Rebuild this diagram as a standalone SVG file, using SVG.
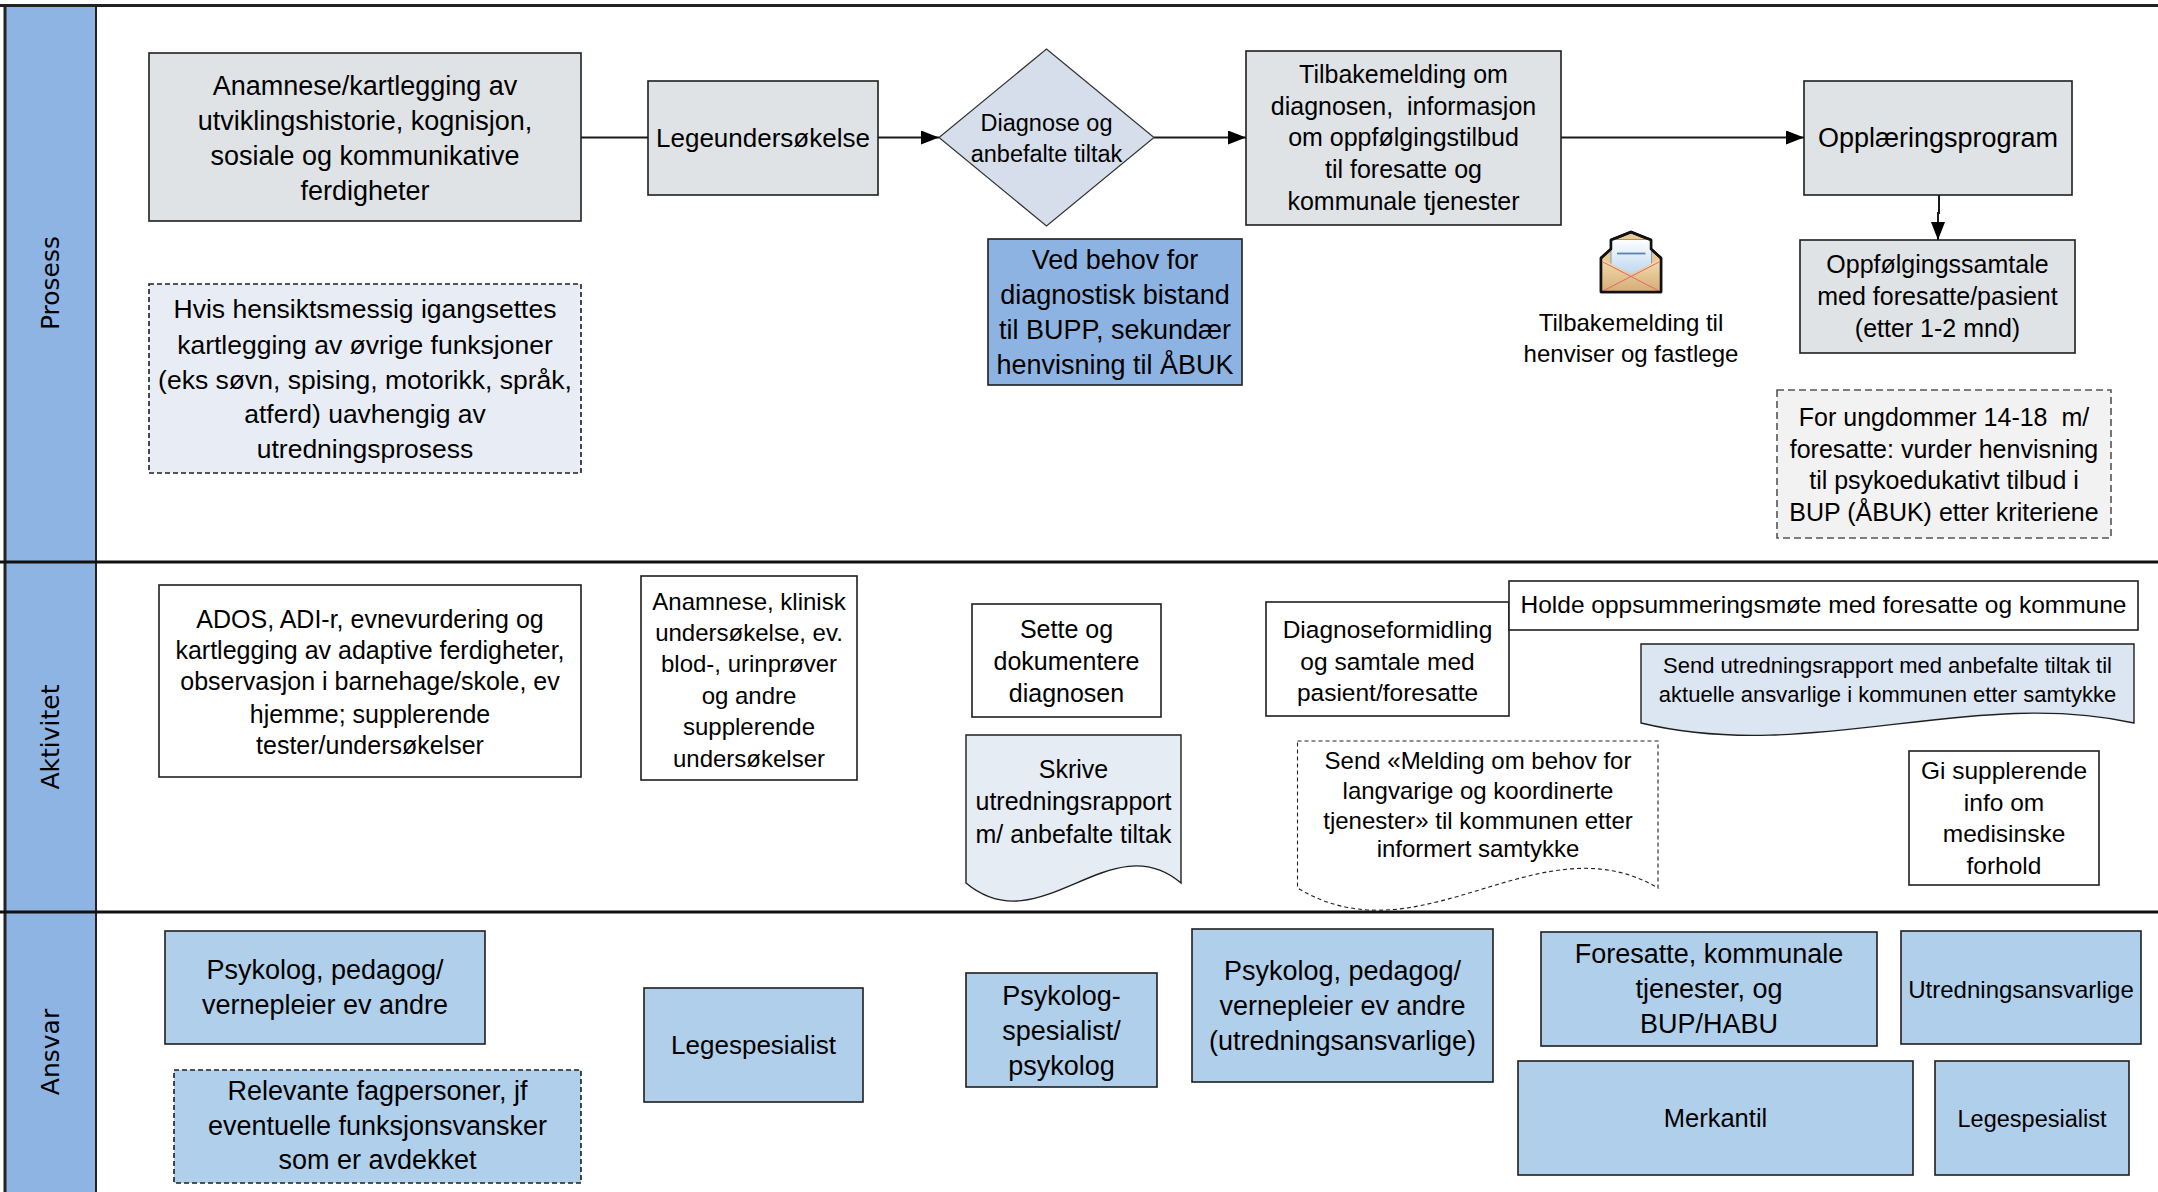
<svg xmlns="http://www.w3.org/2000/svg" width="2158" height="1192" viewBox="0 0 2158 1192">
<defs>
<style>
.bx{stroke:#1f1f1f;stroke-width:1.6}
.gray{fill:#DFE3E6}
.white{fill:#FFFFFF}
.ans{fill:#AFCFEB}
.dash{stroke-dasharray:5 3}
.t{font-family:"Liberation Sans",Arial,sans-serif;text-anchor:middle;fill:#000}
.pre{white-space:pre}
.lane{font-family:"DejaVu Sans",Verdana,sans-serif;font-size:25px;text-anchor:middle;fill:#000}
.con{stroke:#1a1a1a;stroke-width:2;fill:none}
</style>
<marker id="arr" markerUnits="userSpaceOnUse" markerWidth="18" markerHeight="14" refX="18" refY="7" orient="auto">
<path d="M0,0 L18,7 L0,14 Z" fill="#000"/>
</marker>
<linearGradient id="paper" x1="0" y1="0" x2="0" y2="1">
<stop offset="0" stop-color="#FFFFFF"/>
<stop offset="1" stop-color="#B9D5F0"/>
</linearGradient>
<linearGradient id="env" x1="0" y1="0" x2="0" y2="1">
<stop offset="0" stop-color="#F3DDB0"/>
<stop offset="1" stop-color="#D6AE76"/>
</linearGradient>
</defs>
<rect x="0" y="0" width="2158" height="1192" fill="#FFFFFF"/>

<g id="lanes">
<rect x="5" y="5" width="91" height="1187" fill="#8EB4E3"/>
<line x1="0" y1="5.5" x2="2158" y2="5.5" stroke="#222" stroke-width="3"/>
<line x1="5" y1="5" x2="5" y2="1192" stroke="#222" stroke-width="3"/>
<line x1="96" y1="5" x2="96" y2="1192" stroke="#222" stroke-width="2"/>
<line x1="0" y1="562" x2="2158" y2="562" stroke="#111" stroke-width="3"/>
<line x1="0" y1="912" x2="2158" y2="912" stroke="#111" stroke-width="3"/>
<text class="lane" transform="translate(50,283) rotate(-90)" x="0" y="9">Prosess</text>
<text class="lane" transform="translate(50,737) rotate(-90)" x="0" y="9">Aktivitet</text>
<text class="lane" transform="translate(50,1052) rotate(-90)" x="0" y="9">Ansvar</text>
</g>

<g id="connectors">
<line class="con" x1="581" y1="137.5" x2="648" y2="137.5"/>
<line class="con" x1="878" y1="137.5" x2="939" y2="137.5" marker-end="url(#arr)"/>
<line class="con" x1="1154" y1="137.5" x2="1246" y2="137.5" marker-end="url(#arr)"/>
<line class="con" x1="1561" y1="137.5" x2="1804" y2="137.5" marker-end="url(#arr)"/>
<path class="con" d="M1939,195 V213 H1938 V240" marker-end="url(#arr)"/>
</g>

<g id="n1">
<rect class="bx gray" x="149" y="53" width="432" height="168"/>
<text class="t" font-size="27"><tspan x="365" y="94.5">Anamnese/kartlegging av</tspan><tspan x="365" y="129.5">utviklingshistorie, kognisjon,</tspan><tspan x="365" y="165">sosiale og kommunikative</tspan><tspan x="365" y="199.5">ferdigheter</tspan></text>
</g>

<g id="n2">
<rect class="bx gray" x="648" y="81" width="230" height="114"/>
<text class="t" font-size="26" x="763" y="146.5">Legeundersøkelse</text>
</g>

<g id="n-diamond">
<polygon points="1046.5,49 1154,137.5 1046.5,226 939,137.5" fill="#D5DEEA" stroke="#333" stroke-width="1.2"/>
<text class="t" font-size="23.5"><tspan x="1046.5" y="130.5">Diagnose og</tspan><tspan x="1046.5" y="161.5">anbefalte tiltak</tspan></text>
</g>

<g id="n3">
<rect class="bx" x="988" y="239" width="254" height="146" fill="#8DB3E2"/>
<text class="t" font-size="27"><tspan x="1115" y="268.5">Ved behov for</tspan><tspan x="1115" y="303.5">diagnostisk bistand</tspan><tspan x="1115" y="338.5">til BUPP, sekundær</tspan><tspan x="1115" y="373.5">henvisning til ÅBUK</tspan></text>
</g>

<g id="n4">
<rect class="bx gray" x="1246" y="51" width="315" height="174"/>
<text class="t pre" font-size="25" xml:space="preserve"><tspan x="1403.5" y="82.5">Tilbakemelding om</tspan><tspan x="1403.5" y="114.5">diagnosen,  informasjon</tspan><tspan x="1403.5" y="146">om oppfølgingstilbud</tspan><tspan x="1403.5" y="177.5">til foresatte og</tspan><tspan x="1403.5" y="209.5">kommunale tjenester</tspan></text>
</g>

<g id="n5">
<rect class="bx gray" x="1804" y="81" width="268" height="114"/>
<text class="t" font-size="27" x="1938" y="147">Opplæringsprogram</text>
</g>

<g id="n6">
<rect class="bx gray" x="1800" y="240" width="275" height="113"/>
<text class="t" font-size="25"><tspan x="1937.5" y="272.5">Oppfølgingssamtale</tspan><tspan x="1937.5" y="304.5">med foresatte/pasient</tspan><tspan x="1937.5" y="336.5">(etter 1-2 mnd)</tspan></text>
</g>

<g id="n-envelope">
<path d="M1601,258 L1611,249 L1611,240 L1631,232 L1651,240 L1651,249 L1661,258 V292 H1601 Z" fill="#E9C891" stroke="#111" stroke-width="2.5" stroke-linejoin="round"/>
<rect x="1611" y="239.5" width="40.5" height="36" fill="url(#paper)" stroke="#7E9CB8" stroke-width="1"/>
<line x1="1617" y1="253.5" x2="1645.5" y2="253.5" stroke="#5A84B0" stroke-width="1.8"/>
<path d="M1602.2,259 L1631,274 L1659.8,259 V291 H1602.2 Z" fill="url(#env)"/>
<line x1="1603" y1="262" x2="1659" y2="291" stroke="#E06A6A" stroke-width="1"/>
<line x1="1659" y1="262" x2="1603" y2="291" stroke="#E06A6A" stroke-width="1"/>
<path d="M1601,258 L1611,249 L1611,240 L1631,232 L1651,240 L1651,249 L1661,258 V292 H1601 Z" fill="none" stroke="#111" stroke-width="2.5" stroke-linejoin="round"/>
<text class="t" font-size="24"><tspan x="1631" y="331">Tilbakemelding til</tspan><tspan x="1631" y="362">henviser og fastlege</tspan></text>
</g>

<g id="n7">
<rect class="bx dash" x="149" y="284" width="432" height="189" fill="#E8EDF5" stroke-width="1.4"/>
<text class="t" font-size="26.5"><tspan x="365" y="318">Hvis hensiktsmessig igangsettes</tspan><tspan x="365" y="353.5">kartlegging av øvrige funksjoner</tspan><tspan x="365" y="388.5">(eks søvn, spising, motorikk, språk,</tspan><tspan x="365" y="423">atferd) uavhengig av</tspan><tspan x="365" y="458">utredningsprosess</tspan></text>
</g>

<g id="n8">
<rect x="1777" y="390" width="334" height="148" fill="#F2F2F2" stroke="#555" stroke-width="1.6" stroke-dasharray="7 4"/>
<text class="t pre" font-size="25" xml:space="preserve"><tspan x="1944" y="425.5">For ungdommer 14-18  m/</tspan><tspan x="1944" y="457.5">foresatte: vurder henvisning</tspan><tspan x="1944" y="489">til psykoedukativt tilbud i</tspan><tspan x="1944" y="521">BUP (ÅBUK) etter kriteriene</tspan></text>
</g>

<g id="a1">
<rect class="bx white" x="159" y="585" width="422" height="192"/>
<text class="t" font-size="25"><tspan x="370" y="627.5">ADOS, ADI-r, evnevurdering og</tspan><tspan x="370" y="659">kartlegging av adaptive ferdigheter,</tspan><tspan x="370" y="690">observasjon i barnehage/skole, ev</tspan><tspan x="370" y="722.5">hjemme; supplerende</tspan><tspan x="370" y="754">tester/undersøkelser</tspan></text>
</g>

<g id="a2">
<rect class="bx white" x="641" y="576" width="216" height="204"/>
<text class="t" font-size="24"><tspan x="749" y="610">Anamnese, klinisk</tspan><tspan x="749" y="641">undersøkelse, ev.</tspan><tspan x="749" y="672">blod-, urinprøver</tspan><tspan x="749" y="703.5">og andre</tspan><tspan x="749" y="735">supplerende</tspan><tspan x="749" y="766.5">undersøkelser</tspan></text>
</g>

<g id="a3">
<rect class="bx white" x="972" y="604" width="189" height="113"/>
<text class="t" font-size="25"><tspan x="1066.5" y="638">Sette og</tspan><tspan x="1066.5" y="669.5">dokumentere</tspan><tspan x="1066.5" y="701.5">diagnosen</tspan></text>
</g>

<g id="a4">
<path d="M966,735 H1181 V883 C1110,823 1040,945 966,883 Z" fill="#E6ECF4" stroke="#1f1f1f" stroke-width="1.4"/>
<text class="t" font-size="25"><tspan x="1073.5" y="777.5">Skrive</tspan><tspan x="1073.5" y="810">utredningsrapport</tspan><tspan x="1073.5" y="842.5">m/ anbefalte tiltak</tspan></text>
</g>

<g id="a5">
<rect class="bx white" x="1266" y="602" width="243" height="114"/>
<text class="t" font-size="24.5"><tspan x="1387.5" y="637.5">Diagnoseformidling</tspan><tspan x="1387.5" y="669.5">og samtale med</tspan><tspan x="1387.5" y="700.5">pasient/foresatte</tspan></text>
</g>

<g id="a6">
<rect class="bx white" x="1509" y="581" width="629" height="49"/>
<text class="t" font-size="24.5" x="1823.5" y="613">Holde oppsummeringsmøte med foresatte og kommune</text>
</g>

<g id="a7">
<path d="M1641,644 H2134 V723 C1971,687 1810,764 1641,723 Z" fill="#DCE6F2" stroke="#1f1f1f" stroke-width="1.4"/>
<text class="t" font-size="22"><tspan x="1887.5" y="672.5">Send utredningsrapport med anbefalte tiltak til</tspan><tspan x="1887.5" y="701.5">aktuelle ansvarlige i kommunen etter samtykke</tspan></text>
</g>

<g id="a8">
<path d="M1297.5,741 H1658 V888 C1539,818 1421.5,963 1297.5,888 Z" fill="#FFFFFF" stroke="#222" stroke-width="1.1" stroke-dasharray="4 3"/>
<text class="t" font-size="24"><tspan x="1478" y="769">Send «Melding om behov for</tspan><tspan x="1478" y="799">langvarige og koordinerte</tspan><tspan x="1478" y="828.5">tjenester» til kommunen etter</tspan><tspan x="1478" y="857">informert samtykke</tspan></text>
</g>

<g id="a9">
<rect class="bx white" x="1909" y="751" width="190" height="134"/>
<text class="t" font-size="24.5"><tspan x="2004" y="779">Gi supplerende</tspan><tspan x="2004" y="810.5">info om</tspan><tspan x="2004" y="842">medisinske</tspan><tspan x="2004" y="873.5">forhold</tspan></text>
</g>

<g id="r1">
<rect class="bx ans" x="165" y="931" width="320" height="113"/>
<text class="t" font-size="27"><tspan x="325" y="979">Psykolog, pedagog/</tspan><tspan x="325" y="1013.5">vernepleier ev andre</tspan></text>
</g>

<g id="r2">
<rect class="bx ans dash" x="174" y="1070" width="407" height="113" stroke-width="1.3"/>
<text class="t" font-size="27"><tspan x="377.5" y="1100">Relevante fagpersoner, jf</tspan><tspan x="377.5" y="1134.5">eventuelle funksjonsvansker</tspan><tspan x="377.5" y="1169">som er avdekket</tspan></text>
</g>

<g id="r3">
<rect class="bx ans" x="644" y="988" width="219" height="114"/>
<text class="t" font-size="26" x="753.5" y="1054">Legespesialist</text>
</g>

<g id="r4">
<rect class="bx ans" x="966" y="973" width="191" height="114"/>
<text class="t" font-size="27"><tspan x="1061.5" y="1005">Psykolog-</tspan><tspan x="1061.5" y="1040">spesialist/</tspan><tspan x="1061.5" y="1075">psykolog</tspan></text>
</g>

<g id="r5">
<rect class="bx ans" x="1192" y="929" width="301" height="153"/>
<text class="t" font-size="27"><tspan x="1342.5" y="979.5">Psykolog, pedagog/</tspan><tspan x="1342.5" y="1014.5">vernepleier ev andre</tspan><tspan x="1342.5" y="1049.5">(utredningsansvarlige)</tspan></text>
</g>

<g id="r6">
<rect class="bx ans" x="1541" y="932" width="336" height="114"/>
<text class="t" font-size="27"><tspan x="1709" y="963">Foresatte, kommunale</tspan><tspan x="1709" y="998">tjenester, og</tspan><tspan x="1709" y="1032.5">BUP/HABU</tspan></text>
</g>

<g id="r7">
<rect class="bx ans" x="1901" y="931" width="240" height="113"/>
<text class="t" font-size="24" x="2021" y="997.5">Utredningsansvarlige</text>
</g>

<g id="r8">
<rect class="bx ans" x="1518" y="1061" width="395" height="114"/>
<text class="t" font-size="25.5" x="1715.5" y="1127">Merkantil</text>
</g>

<g id="r9">
<rect class="bx ans" x="1935" y="1061" width="194" height="114"/>
<text class="t" font-size="23.5" x="2032" y="1126.5">Legespesialist</text>
</g>
</svg>
